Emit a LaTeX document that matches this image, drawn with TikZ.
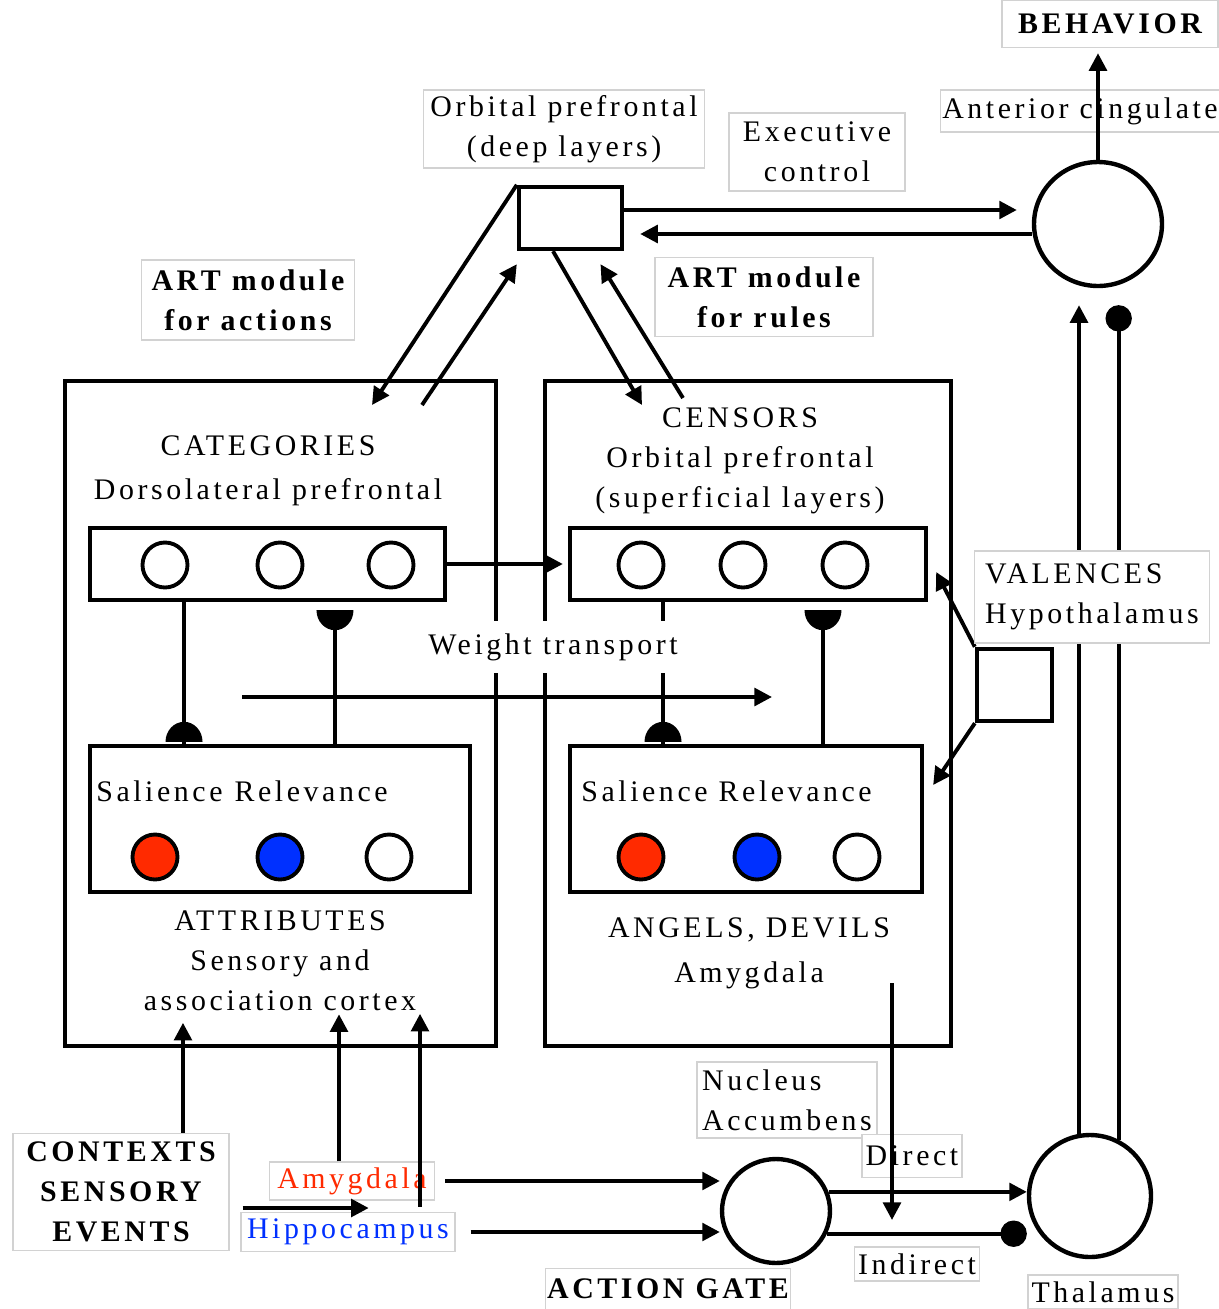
\documentclass[tikz,border=0pt]{standalone}
\usepackage{fontspec}
\setmainfont{Liberation Serif}[LetterSpace=12]
\usepackage{tikz}
\usetikzlibrary{shapes.geometric, arrows.meta, positioning}

\definecolor{salred}{RGB}{255,42,0}
\definecolor{relblue}{RGB}{0,48,255}
\definecolor{tagline}{RGB}{210,210,210}

\tikzset{
  domeup/.pic={\fill (-0.37cm,0) arc[start angle=180, end angle=0, x radius=0.37cm, y radius=0.4cm] -- cycle;},
  domedown/.pic={\fill (-0.37cm,0) arc[start angle=180, end angle=360, x radius=0.37cm, y radius=0.4cm] -- cycle;}
}

\begin{document}
\begin{tikzpicture}[x=0.02cm, y=-0.02cm, >={Triangle[length=10pt,width=10pt]},
  tag/.style={rectangle, draw=tagline, line width=0.8pt, fill=white, inner sep=1pt, align=center, font=\fontsize{17}{22.8}\selectfont},
  btag/.style={tag, font=\fontsize{17}{22.8}\selectfont\bfseries},
  txt/.style={align=center, inner sep=0pt, font=\fontsize{17}{22.8}\selectfont},
  area/.style={rectangle, draw, line width=2.5pt, inner sep=0pt},
  unit/.style={circle, draw, line width=2.2pt, minimum size=0.9cm, inner sep=0pt},
  hub/.style={ellipse, draw, line width=2.5pt, inner sep=0pt},
  line/.style={draw, ->, line width=2.2pt},
  plain/.style={draw, line width=2.2pt}]

  \useasboundingbox (0,0) rectangle (1219,1309);

  % the two cortical areas
  \node [area, minimum width=8.62cm, minimum height=13.3cm] (catbox) at (280.5,713.5) {};
  \node [area, minimum width=8.12cm, minimum height=13.3cm] (cenbox) at (748,713.5) {};
  \node [area, minimum width=7.1cm, minimum height=1.44cm] (catrow) at (267.5,564) {};
  \node [area, minimum width=7.12cm, minimum height=1.44cm] (cenrow) at (748,564) {};
  \node [area, minimum width=7.6cm, minimum height=2.92cm] (attrow) at (280,819) {};
  \node [area, minimum width=7.04cm, minimum height=2.92cm] (amrow) at (746,819) {};
  \node [area, minimum width=2.06cm, minimum height=1.24cm] (ofc) at (570.5,218) {};
  \node [area, minimum width=1.5cm, minimum height=1.44cm] (hyp) at (1014.5,685) {};

  \node [hub, minimum width=2.56cm, minimum height=2.48cm] (cing) at (1098,224) {};
  \node [hub, minimum width=2.16cm, minimum height=2.08cm] (nacc) at (776,1211) {};
  \node [hub, minimum width=2.44cm, minimum height=2.44cm] (thal) at (1090,1196) {};

  \foreach \x/\name in {165/c1, 280/c2, 391/c3}
    \node [unit] (\name) at (\x,565) {};
  \foreach \x/\name in {641/e1, 743/e2, 845/e3}
    \node [unit] (\name) at (\x,565) {};
  \foreach \x/\col/\name in {155/salred/a1, 280/relblue/a2, 389/white/a3}
    \node [unit, fill=\col] (\name) at (\x,857) {};
  \foreach \x/\col/\name in {641/salred/d1, 757/relblue/d2, 857/white/d3}
    \node [unit, fill=\col] (\name) at (\x,857) {};

  % texts in the areas
  \node [txt] (cattxt) at (268,471) {CATEGORIES\\[2pt]Dorsolateral prefrontal};
  \node [txt] (centxt) at (740,461) {CENSORS\\Orbital prefrontal\\(superficial layers)};
  \node [txt] (atttxt) at (280,961) {ATTRIBUTES\\Sensory and\\association cortex};
  \node [txt] (amtxt) at (749,953) {ANGELS, DEVILS\\[3pt]Amygdala};
  \node [txt, anchor=west] (attsal) at (96,791) {Salience\hspace{0.4em}Relevance};
  \node [txt, anchor=west] (amsal) at (581,791) {Salience Relevance};

  % labels
  \node [btag, minimum width=4.32cm, minimum height=0.94cm] (behav) at (1110,24) {BEHAVIOR};
  \node [tag, minimum width=5.52cm, minimum height=0.84cm] (cinglbl) at (1080,111) {Anterior cingulate};
  \node [tag, minimum width=5.62cm, minimum height=1.56cm] (ofclbl) at (564,129) {Orbital prefrontal\\(deep layers)};
  \node [tag, minimum width=3.52cm, minimum height=1.56cm] (exelbl) at (817,152) {Executive\\control};
  \node [btag, minimum width=4.26cm, minimum height=1.6cm] (artact) at (248,300) {ART module\\for actions};
  \node [btag, minimum width=4.36cm, minimum height=1.58cm] (artrule) at (764,297) {ART module\\for rules};
  \node [tag, align=left, minimum width=3.6cm, minimum height=1.52cm] (nacclbl) at (787,1100) {Nucleus\\Accumbens};
  \node [tag, minimum width=2cm, minimum height=0.86cm] (dirlbl) at (912,1156) {Direct};
  \node [tag, minimum width=2.5cm, minimum height=0.68cm] (indlbl) at (917,1264) {Indirect};
  \node [btag, minimum width=4.48cm, minimum height=0.82cm] (gatelbl) at (668,1289) {ACTION GATE};
  \node [tag, minimum width=3cm, minimum height=0.68cm] (thallbl) at (1103,1292) {Thalamus};
  \node [btag, minimum width=4.32cm, minimum height=2.34cm] (ctx) at (121,1192) {CONTEXTS\\SENSORY\\EVENTS};
  \node [tag, text=salred, minimum width=3.3cm, minimum height=0.76cm] (amylbl) at (352,1181) {Amygdala};
  \node [tag, text=relblue, minimum width=4.28cm, minimum height=0.78cm] (hiplbl) at (348,1232) {Hippocampus};

  % free ends
  \coordinate (catin) at (372,405);
  \coordinate (catout) at (422,405);
  \coordinate (cenin) at (642,405);
  \coordinate (cenout) at (683,398);
  \coordinate (wtfrom) at (242,697);
  \coordinate (wtto) at (772,697);
  \coordinate (amyout) at (892,983);
  \coordinate (o1) at ([yshift=0.16cm]ofc.east);
  \coordinate (o2) at ([yshift=-0.2cm]cing.west);

  % executive loop
  \path [line, shorten >=0.1cm] (cing.north) -- (cing.north |- behav.south);
  \path [line, shorten >=0.3cm] (o1) -- (o1 -| cing.west);
  \path [line, shorten >=0.32cm] (o2) -- (o2 -| ofc.east);
  \path [line] (ofc.north west) -- (catin);
  \path [line] (catout) -- ([yshift=-0.26cm]ofc.south west);
  \path [line] ([xshift=-0.35cm]ofc.south) -- (cenin);
  \path [line] (cenout) -- ([xshift=0.6cm,yshift=-0.26cm]ofc.south);

  % categories and censors
  \path [line, shorten >=0.1cm] (catrow.east) -- (cenrow.west);
  \path [line] (wtfrom) -- (wtto);
  \path [plain] ([xshift=-1.67cm]catrow.south) -- ([xshift=-1.92cm]attrow.north);
  \pic at ([xshift=-1.92cm,yshift=0.04cm]attrow.north) {domeup};
  \path [plain] ([xshift=1.1cm]attrow.north) -- ([xshift=1.35cm,yshift=-0.16cm]catrow.south);
  \pic at ([xshift=1.35cm,yshift=-0.16cm]catrow.south) {domedown};
  \path [plain] ([xshift=-1.7cm]cenrow.south) -- ([xshift=-1.66cm]amrow.north);
  \pic at ([xshift=-1.66cm,yshift=0.04cm]amrow.north) {domeup};
  \path [plain] ([xshift=1.54cm]amrow.north) -- ([xshift=1.5cm,yshift=-0.16cm]cenrow.south);
  \pic at ([xshift=1.5cm,yshift=-0.16cm]cenrow.south) {domedown};

  % valences
  \path [line] (hyp.north west) -- ([shift={(8,8)}]cenrow.east);
  \path [line] (hyp.south west) -- ([shift={(9,-34)}]amrow.east);

  % thalamic loop
  \path [line, shorten >=0.34cm] (thal.100) -- (thal.100 |- cing.south);
  \path [plain, -{Circle[length=15pt]}, shorten >=0.34cm] (thal.63) -- (thal.63 |- cing.south);
  \path [line] (nacc.20) -- (nacc.20 -| thal.west);
  \path [plain, -{Circle[length=15pt]}] (nacc.-24) -- (nacc.-24 -| thal.west);
  \path [line] (amyout) -- ++(0,237);

  % inputs
  \path [line] ([xshift=0.2cm]amylbl.east) -- (amylbl.east -| nacc.west);
  \path [line] ([xshift=0.3cm]hiplbl.east) -- (hiplbl.east -| nacc.west);
  \path [line] ([shift={(13,16)}]ctx.east) -- ++(126,0);
  \path [line] ([xshift=1.24cm]ctx.north) -- ++(0,-110);
  \path [line] ([xshift=-0.26cm]amylbl.north) -- ++(0,-147);
  \path [line] ([shift={(72,-5)}]hiplbl.north) -- ++(0,-193);

  % labels on top of the lines
  \node [txt, fill=white, inner xsep=3pt, inner ysep=7pt] (wt) at (553,647) {Weight transport};
  \node [tag, align=left, minimum width=4.7cm, minimum height=1.84cm] (vallbl) at (1092,597) {VALENCES\\Hypothalamus};
\end{tikzpicture}
\end{document}
